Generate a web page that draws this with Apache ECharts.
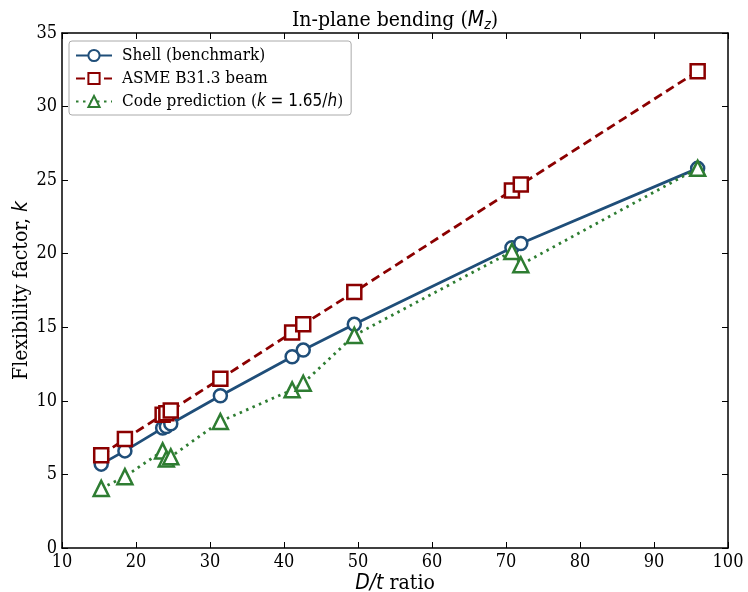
<!DOCTYPE html>
<html>
<head>
<meta charset="UTF-8">
<title>In-plane bending</title>
<script src="https://cdn.jsdelivr.net/npm/echarts@6/dist/echarts.min.js"></script>
<style>
  html, body { margin: 0; padding: 0; background: #fff; }
  #main { width: 748px; height: 592px; }
</style>
</head>
<body>
<div id="main"></div>
<script>
// D/t ratio of each case
var dt = [15.3, 18.5, 23.6, 24.1, 24.7, 31.4, 41.1, 42.6, 49.5, 70.8, 72.0, 95.9];
// flexibility factor k
var shell = [5.7, 6.6, 8.15, 8.25, 8.45, 10.35, 13.0, 13.45, 15.2, 20.4, 20.7, 25.8];
var asme = [6.3, 7.4, 9.05, 9.15, 9.35, 11.5, 14.65, 15.2, 17.4, 24.3, 24.7, 32.4];
var code = [4.05, 4.85, 6.6, 6.05, 6.2, 8.6, 10.75, 11.2, 14.45, 20.15, 19.25, 25.8];

var xTicks = [10, 100, 10];  // min, max, step
var yTicks = [0, 35, 5];

function pairs(ys) {
  var out = [];
  for (var i = 0; i < dt.length; i++) out.push([dt[i], ys[i]]);
  return out;
}

var FONT = "'DejaVu Serif Condensed', 'DejaVu Serif'";
var MATH = "'DejaVu Sans Condensed', 'DejaVu Sans'";
var chart = echarts.init(document.getElementById('main'));

function axisBase(pos, labels, t) {
  return {
    type: 'value',
    position: pos,
    min: t[0], max: t[1], interval: t[2],
    axisLine: { show: true, onZero: false, lineStyle: { color: '#000', width: 1.5 } },
    axisTick: { show: true, inside: true, length: 6, lineStyle: { color: '#000', width: 1 } },
    axisLabel: { show: labels, color: '#000', fontFamily: FONT, fontSize: 18, margin: 5 },
    splitLine: { show: false }
  };
}

var xBottom = axisBase('bottom', true, xTicks);
xBottom.name = '{i|D/t} ratio';
xBottom.nameLocation = 'middle';
xBottom.nameGap = 25;
xBottom.nameMoveOverlap = false;
xBottom.nameTextStyle = { color: '#000', fontFamily: FONT, fontSize: 21,
  rich: { i: { fontFamily: MATH, fontStyle: 'italic', fontSize: 21, color: '#000' } } };

var yLeft = axisBase('left', true, yTicks);
yLeft.name = 'Flexibility factor, {i|k}';
yLeft.nameLocation = 'middle';
yLeft.nameRotate = 90;
yLeft.nameGap = 30;
yLeft.nameMoveOverlap = false;
yLeft.nameTextStyle = { color: '#000', fontFamily: FONT, fontSize: 21,
  rich: { i: { fontFamily: MATH, fontStyle: 'italic', fontSize: 21, color: '#000' } } };

var option = {
  animation: false,
  title: {
    text: 'In-plane bending ({i|M}{s|z})',
    left: 390, top: 4, textAlign: 'center',
    textStyle: { fontFamily: FONT, fontSize: 21, fontWeight: 'normal', color: '#000',
      rich: {
        i: { fontFamily: MATH, fontStyle: 'italic', fontSize: 21, color: '#000' },
        s: { fontFamily: MATH, fontStyle: 'italic', fontSize: 14, color: '#000', verticalAlign: 'bottom', padding: [9, 0, 0, 0] }
      } }
  },
  grid: { left: 62, right: 20, top: 33, bottom: 44, outerBoundsMode: 'none' },
  legend: {
    left: 69, top: 41,
    orient: 'vertical',
    itemWidth: 36, itemHeight: 14, itemGap: 6,
    padding: [6, 8, 5, 6],
    backgroundColor: '#fff',
    borderColor: '#aaa', borderWidth: 1, borderRadius: 3,
    textStyle: { fontFamily: FONT, fontSize: 17, color: '#000', padding: [0, 0, 0, 5],
      rich: { i: { fontFamily: MATH, fontStyle: 'italic', fontSize: 17, color: '#000' },
              m: { fontFamily: MATH, fontSize: 17, color: '#000' } } },
    formatter: function (name) {
      if (name.indexOf('Code') === 0) return 'Code prediction ({i|k}{m| = 1.65/}{i|h})';
      return name;
    },
    data: ['Shell (benchmark)', 'ASME B31.3 beam', 'Code prediction']
  },
  xAxis: [xBottom, axisBase('top', false, xTicks)],
  yAxis: [yLeft, axisBase('right', false, yTicks)],
  series: [
    {
      name: 'Shell (benchmark)', type: 'line', data: pairs(shell),
      symbol: 'circle', symbolSize: 13, showAllSymbol: true,
      lineStyle: { color: '#1f4e79', width: 2.8 },
      itemStyle: { color: '#fff', borderColor: '#1f4e79', borderWidth: 2.5 }
    },
    {
      name: 'ASME B31.3 beam', type: 'line', data: pairs(asme),
      symbol: 'rect', symbolSize: 14, showAllSymbol: true,
      lineStyle: { color: '#8b0000', width: 2.8, type: [9, 5] },
      itemStyle: { color: '#fff', borderColor: '#8b0000', borderWidth: 2.5 }
    },
    {
      name: 'Code prediction', type: 'line', data: pairs(code),
      symbol: 'triangle', symbolSize: 15, showAllSymbol: true,
      lineStyle: { color: '#2e7d32', width: 2.8, type: [2.5, 4.5] },
      itemStyle: { color: '#fff', borderColor: '#2e7d32', borderWidth: 2.5 }
    }
  ]
};

chart.setOption(option);
</script>
</body>
</html>
